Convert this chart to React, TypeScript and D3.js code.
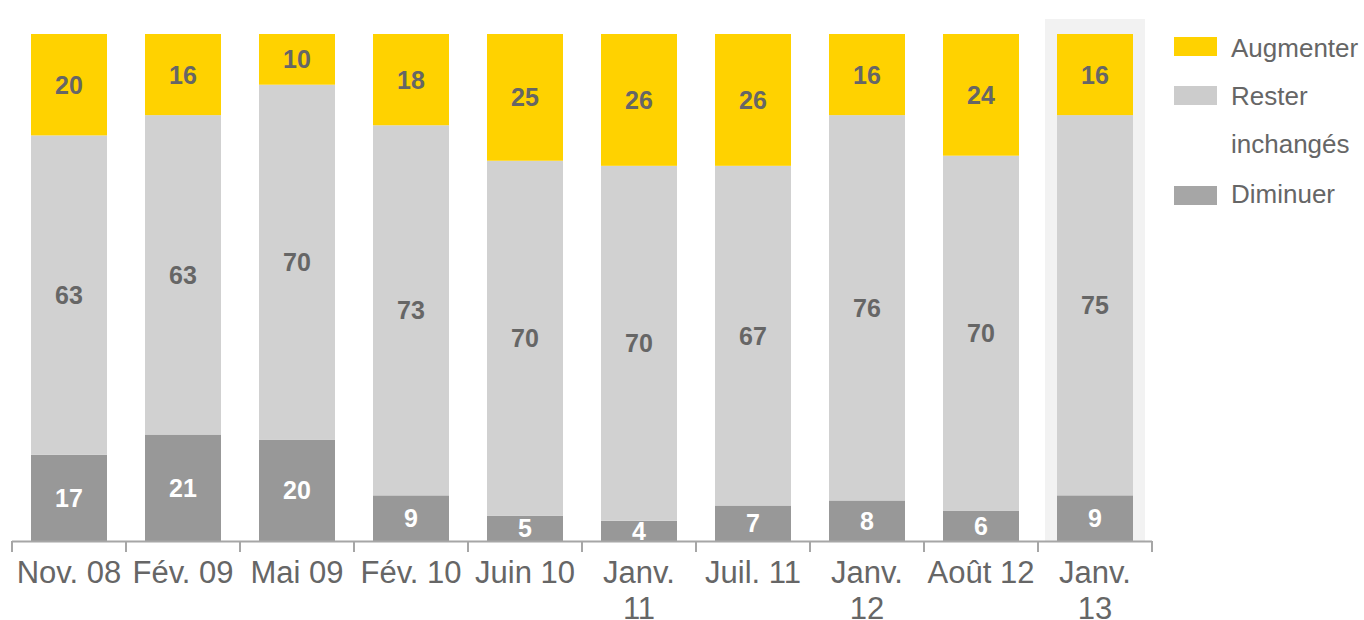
import React from "react";
import * as d3 from "d3";

const categories = ["Nov. 08", "Fév. 09", "Mai 09", "Fév. 10", "Juin 10", "Janv. 11", "Juil. 11", "Janv. 12", "Août 12", "Janv. 13"];
const categoryLines = [["Nov. 08"], ["Fév. 09"], ["Mai 09"], ["Fév. 10"], ["Juin 10"], ["Janv.", "11"], ["Juil. 11"], ["Janv.", "12"], ["Août 12"], ["Janv.", "13"]];
const diminuer = [17, 21, 20, 9, 5, 4, 7, 8, 6, 9];
const rester = [63, 63, 70, 73, 70, 70, 67, 76, 70, 75];
const augmenter = [20, 16, 10, 18, 25, 26, 26, 16, 24, 16];
const seriesNames = ["Diminuer", "Rester inchangés", "Augmenter"];
const highlighted = "Janv. 13";

const W = 1364;
const H = 620;
const FONT = "'Liberation Sans', Arial, Helvetica, sans-serif";

export default function App() {
  const x = d3.scaleBand<string>().domain(categories).range([12, 1152]).paddingInner(1 / 3).paddingOuter(1 / 6);
  const y = d3.scaleLinear().domain([0, 100]).range([541, 34]);

  const rows = categories.map((c, i) => ({ cat: c, Diminuer: diminuer[i], "Rester inchangés": rester[i], Augmenter: augmenter[i] }));
  const stack = d3.stack<any>().keys(seriesNames)(rows);

  const fills: Record<string, string> = { Diminuer: "#989898", "Rester inchangés": "#d1d1d1", Augmenter: "#ffd200" };
  const labelColors: Record<string, string> = { Diminuer: "#ffffff", "Rester inchangés": "#666666", Augmenter: "#666666" };

  const step = x.step();
  const ticks = d3.range(categories.length + 1).map((i) => 12 + i * step);

  const hx = x(highlighted)!;

  const legend = [
    { name: "Augmenter", lines: ["Augmenter"], color: "#ffd200", y: 37, base: 57 },
    { name: "Rester inchangés", lines: ["Rester", "inchangés"], color: "#cccccc", y: 86, base: 105 },
    { name: "Diminuer", lines: ["Diminuer"], color: "#a6a6a6", y: 186, base: 203 },
  ];

  return (
    <svg width={W} height={H} style={{ position: "absolute", left: 0, top: 0 }} fontFamily={FONT}>
      <rect x={hx - 12} y={19} width={x.bandwidth() + 24} height={541 - 19} fill="#f2f2f2" />
      {stack.map((s) =>
        s.map((d, i) => {
          const x0 = x(categories[i])!;
          const y0 = y(d[1]);
          const y1 = y(d[0]);
          const v = d[1] - d[0];
          return (
            <g key={s.key + i}>
              <rect x={x0} y={y0} width={x.bandwidth()} height={y1 - y0} fill={fills[s.key]} />
              <text
                x={x0 + x.bandwidth() / 2}
                y={(y0 + y1) / 2}
                dy="0.36em"
                textAnchor="middle"
                fontSize={25}
                fontWeight="bold"
                fill={labelColors[s.key]}
              >
                {v}
              </text>
            </g>
          );
        })
      )}
      <line x1={12} x2={1152} y1={541.5} y2={541.5} stroke="#a6a6a6" strokeWidth={2} />
      {ticks.map((t, i) => (
        <line key={i} x1={t} x2={t} y1={541} y2={552} stroke="#a6a6a6" strokeWidth={2} />
      ))}
      {categoryLines.map((lines, i) => (
        <text key={i} textAnchor="middle" fontSize={31} fill="#666666">
          {lines.map((l, j) => (
            <tspan key={j} x={x(categories[i])! + x.bandwidth() / 2} y={583 + j * 36}>
              {l}
            </tspan>
          ))}
        </text>
      ))}
      {legend.map((l) => (
        <g key={l.name}>
          <rect x={1174} y={l.y} width={43} height={19} fill={l.color} />
          {l.lines.map((t, j) => (
            <text key={j} x={1231} y={l.base + j * 48} fontSize={26} fill="#666666">
              {t}
            </text>
          ))}
        </g>
      ))}
    </svg>
  );
}
